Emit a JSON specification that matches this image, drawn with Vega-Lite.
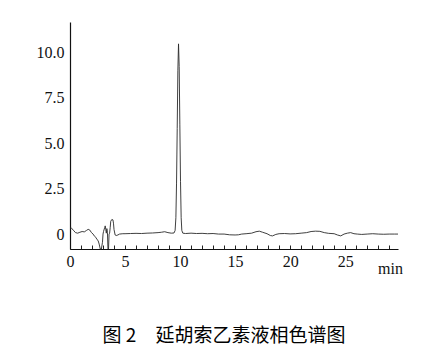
{
  "$schema": "https://vega.github.io/schema/vega-lite/v6.json",
  "autosize": "none",
  "padding": {"left": 70, "top": 22, "right": 37, "bottom": 111},
  "width": 328,
  "height": 227,
  "background": "white",
  "title": {
    "text": "图 2　延胡索乙素液相色谱图",
    "orient": "bottom",
    "anchor": "middle",
    "font": "Noto Sans CJK SC",
    "fontSize": 19,
    "fontWeight": "normal",
    "color": "#000",
    "offset": 51,
    "dx": -10
  },
  "config": {
    "view": {"stroke": null},
    "axis": {"grid": false}
  },
  "data": {
    "values": [
      {"t": 0.0, "v": 0.30}, {"t": 0.1, "v": 0.35}, {"t": 0.2, "v": 0.28}, {"t": 0.35, "v": 0.18},
      {"t": 0.5, "v": 0.08}, {"t": 0.7, "v": 0.05}, {"t": 0.9, "v": 0.10}, {"t": 1.1, "v": 0.14},
      {"t": 1.3, "v": 0.12}, {"t": 1.5, "v": 0.20}, {"t": 1.65, "v": 0.26}, {"t": 1.8, "v": 0.22},
      {"t": 1.95, "v": 0.08}, {"t": 2.1, "v": 0.0}, {"t": 2.2, "v": -0.10}, {"t": 2.35, "v": -0.18},
      {"t": 2.45, "v": -0.30}, {"t": 2.55, "v": -0.35}, {"t": 2.65, "v": -0.55}, {"t": 2.75, "v": -0.82},
      {"t": 2.85, "v": -0.82}, {"t": 2.95, "v": -0.45}, {"t": 3.0, "v": 0.0}, {"t": 3.05, "v": 0.15},
      {"t": 3.15, "v": 0.35}, {"t": 3.2, "v": 0.45}, {"t": 3.25, "v": 0.25}, {"t": 3.3, "v": 0.05},
      {"t": 3.35, "v": 0.30}, {"t": 3.4, "v": 0.10}, {"t": 3.45, "v": -0.82}, {"t": 3.5, "v": -0.82},
      {"t": 3.55, "v": 0.0}, {"t": 3.6, "v": 0.05}, {"t": 3.65, "v": 0.35}, {"t": 3.7, "v": 0.70},
      {"t": 3.8, "v": 0.80}, {"t": 3.9, "v": 0.78}, {"t": 3.95, "v": 0.60}, {"t": 4.0, "v": 0.25},
      {"t": 4.1, "v": -0.05}, {"t": 4.2, "v": -0.08}, {"t": 4.35, "v": -0.05}, {"t": 4.5, "v": 0.0},
      {"t": 4.8, "v": 0.02}, {"t": 5.0, "v": 0.02}, {"t": 5.5, "v": 0.03}, {"t": 6.0, "v": 0.04},
      {"t": 6.5, "v": 0.03}, {"t": 7.0, "v": 0.05}, {"t": 7.5, "v": 0.06}, {"t": 8.0, "v": 0.08},
      {"t": 8.3, "v": 0.10}, {"t": 8.6, "v": 0.13}, {"t": 8.9, "v": 0.08}, {"t": 9.2, "v": 0.05},
      {"t": 9.45, "v": 0.06}, {"t": 9.55, "v": 0.20}, {"t": 9.62, "v": 0.9}, {"t": 9.68, "v": 2.8},
      {"t": 9.74, "v": 5.8}, {"t": 9.8, "v": 9.0}, {"t": 9.86, "v": 10.45}, {"t": 9.92, "v": 9.2},
      {"t": 9.98, "v": 6.0}, {"t": 10.04, "v": 2.9}, {"t": 10.1, "v": 0.9}, {"t": 10.16, "v": 0.2},
      {"t": 10.25, "v": 0.05}, {"t": 10.5, "v": 0.03}, {"t": 11.0, "v": 0.05}, {"t": 11.5, "v": 0.03},
      {"t": 12.0, "v": 0.04}, {"t": 12.5, "v": 0.02}, {"t": 13.0, "v": 0.03}, {"t": 13.5, "v": 0.0},
      {"t": 14.0, "v": 0.0}, {"t": 14.5, "v": -0.04}, {"t": 15.0, "v": -0.05}, {"t": 15.3, "v": -0.04},
      {"t": 15.6, "v": 0.0}, {"t": 16.0, "v": 0.02}, {"t": 16.5, "v": 0.05}, {"t": 16.9, "v": 0.13},
      {"t": 17.2, "v": 0.16}, {"t": 17.5, "v": 0.10}, {"t": 17.9, "v": 0.02}, {"t": 18.2, "v": -0.08},
      {"t": 18.4, "v": -0.10}, {"t": 18.7, "v": -0.02}, {"t": 19.0, "v": 0.02}, {"t": 19.5, "v": 0.03},
      {"t": 20.0, "v": 0.01}, {"t": 20.5, "v": 0.02}, {"t": 21.0, "v": 0.05}, {"t": 21.5, "v": 0.08},
      {"t": 21.9, "v": 0.14}, {"t": 22.3, "v": 0.16}, {"t": 22.7, "v": 0.15}, {"t": 23.1, "v": 0.08},
      {"t": 23.5, "v": 0.04}, {"t": 24.0, "v": 0.02}, {"t": 24.3, "v": -0.05}, {"t": 24.6, "v": -0.10},
      {"t": 24.9, "v": 0.0}, {"t": 25.2, "v": 0.05}, {"t": 25.5, "v": 0.08}, {"t": 25.8, "v": 0.02},
      {"t": 26.1, "v": 0.0}, {"t": 26.5, "v": -0.02}, {"t": 27.0, "v": 0.0}, {"t": 27.5, "v": 0.02},
      {"t": 28.0, "v": 0.0}, {"t": 28.5, "v": -0.01}, {"t": 29.0, "v": 0.0}, {"t": 29.5, "v": 0.0},
      {"t": 29.8, "v": 0.0}
    ]
  },
  "mark": {"type": "line", "color": "#2a2a2a", "strokeWidth": 0.9, "interpolate": "linear"},
  "encoding": {
    "x": {
      "field": "t",
      "type": "quantitative",
      "scale": {"domain": [0, 29.8], "nice": false, "zero": false},
      "axis": {
        "values": [0,1,2,3,4,5,6,7,8,9,10,11,12,13,14,15,16,17,18,19,20,21,22,23,24,25,26,27,28,29],
        "labelExpr": "datum.value % 5 == 0 ? datum.label : ''",
        "tickSize": -4,
        "tickColor": "#222",
        "domainColor": "#111",
        "domainWidth": 1.2,
        "labelFont": "Liberation Serif",
        "labelFontSize": 16,
        "labelColor": "#111",
        "labelPadding": 8,
        "labelFlush": false,
        "labelOverlap": false,
        "title": "min",
        "titleFont": "Liberation Serif",
        "titleFontSize": 16,
        "titleFontWeight": "normal",
        "titleColor": "#111",
        "titleX": 320,
        "titleY": 24,
        "titleAlign": "center",
        "titleBaseline": "alphabetic"
      }
    },
    "y": {
      "field": "v",
      "type": "quantitative",
      "scale": {"domain": [-0.82, 11.65], "nice": false, "zero": false},
      "axis": {
        "values": [0, 2.5, 5, 7.5, 10],
        "labelExpr": "datum.value == 0 ? '0' : format(datum.value, '.1f')",
        "ticks": false,
        "domainColor": "#111",
        "domainWidth": 1.2,
        "labelFont": "Liberation Serif",
        "labelFontSize": 16,
        "labelColor": "#111",
        "labelPadding": 6,
        "labelFlush": false,
        "labelOverlap": false,
        "title": null
      }
    }
  }
}
